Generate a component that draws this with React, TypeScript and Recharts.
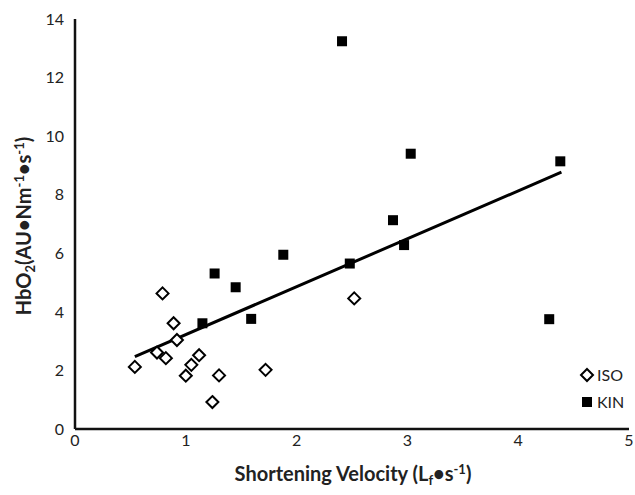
import { ScatterChart, Scatter, XAxis, YAxis, ReferenceLine } from 'recharts'

// ISO: open diamonds
const isoX = [0.54, 0.74, 0.79, 0.82, 0.89, 0.92, 1.0, 1.05, 1.12, 1.24, 1.30, 1.72, 2.52]
const isoY = [2.12, 2.61, 4.63, 2.42, 3.61, 3.04, 1.82, 2.19, 2.52, 0.92, 1.83, 2.02, 4.46]

// KIN: filled squares
const kinX = [1.15, 1.26, 1.45, 1.59, 1.88, 2.41, 2.48, 2.87, 2.97, 3.03, 4.28, 4.38]
const kinY = [3.61, 5.31, 4.84, 3.76, 5.95, 13.24, 5.65, 7.13, 6.28, 9.40, 3.75, 9.14]

// linear fit drawn across the data range
const trendX = [0.54, 4.39]
const trendY = [2.47, 8.77]

const seriesNames = ['ISO', 'KIN']
const xTicks = [0, 1, 2, 3, 4, 5]
const yTicks = [0, 2, 4, 6, 8, 10, 12, 14]

const isoData = isoX.map((x, i) => ({ x, y: isoY[i] }))
const kinData = kinX.map((x, i) => ({ x, y: kinY[i] }))

const FONT = 'Lato, "Open Sans", sans-serif'

const Diamond = (props: any) => {
    const { cx, cy } = props
    const r = 6
    return (
        <polygon
            points={`${cx},${cy - r} ${cx + r},${cy} ${cx},${cy + r} ${cx - r},${cy}`}
            fill="#fff"
            stroke="#000"
            strokeWidth={2}
        />
    )
}

const Square = (props: any) => {
    const { cx, cy } = props
    return <rect x={cx - 5} y={cy - 5} width={10} height={10} fill="#000" />
}

// legend sits inside the plot, lower right
const LegendBox = () => (
    <g transform="translate(580, 366)">
        {seriesNames.map((name, i) => {
            const cy = 9 + i * 27
            return (
                <g key={name}>
                    {name === 'ISO' ? (
                        <polygon points={`7,${cy - 6} 13,${cy} 7,${cy + 6} 1,${cy}`} fill="#fff" stroke="#000" strokeWidth={2} />
                    ) : (
                        <rect x={2} y={cy - 5} width={10} height={10} fill="#000" />
                    )}
                    <text x={17} y={cy} dy="0.35em" fontSize={16} fontFamily={FONT} fill="#222">
                        {name}
                    </text>
                </g>
            )
        })}
    </g>
)

const YTitle = () => (
    <text
        transform="translate(31, 226) rotate(-90)"
        textAnchor="middle"
        fontSize={20}
        fontWeight="bold"
        fontFamily={FONT}
        fill="#222"
    >
        HbO<tspan fontSize={13} dy={4}>2</tspan>
        <tspan dy={-4}>(AU•Nm</tspan>
        <tspan fontSize={13} dy={-7}>-1</tspan>
        <tspan dy={7}>•s</tspan>
        <tspan fontSize={13} dy={-7}>-1</tspan>
        <tspan dy={7}>)</tspan>
    </text>
)

const XTitle = () => (
    <text x={353} y={481} textAnchor="middle" fontSize={20} fontWeight="bold" fontFamily={FONT} fill="#222">
        Shortening Velocity (L<tspan fontSize={13} dy={4}>f</tspan>
        <tspan dy={-4}>•s</tspan>
        <tspan fontSize={13} dy={-7}>-1</tspan>
        <tspan dy={7}>)</tspan>
    </text>
)

export default function App() {
    return (
        <div style={{ position: 'absolute', left: 0, top: 0, width: 635, height: 495, background: '#fff' }}>
            <ScatterChart width={635} height={495} margin={{ top: 19, right: 6, bottom: 0, left: 0 }}>
                <XAxis
                    type="number"
                    dataKey="x"
                    domain={[0, 5]}
                    ticks={xTicks}
                    height={66}
                    tickLine={false}
                    tickSize={0}
                    tickMargin={6}
                    axisLine={{ stroke: '#111', strokeWidth: 2.5 }}
                    tick={{ fill: '#222', fontSize: 16, fontFamily: FONT }}
                    interval={0}
                />
                <YAxis
                    type="number"
                    dataKey="y"
                    domain={[0, 14]}
                    ticks={yTicks}
                    width={75}
                    tickLine={false}
                    tickSize={0}
                    tickMargin={11}
                    axisLine={{ stroke: '#111', strokeWidth: 2.5 }}
                    tick={{ fill: '#222', fontSize: 16, fontFamily: FONT }}
                    interval={0}
                />
                <ReferenceLine
                    segment={[{ x: trendX[0], y: trendY[0] }, { x: trendX[1], y: trendY[1] }]}
                    stroke="#000"
                    strokeWidth={3}
                    ifOverflow="visible"
                />
                <Scatter name="ISO" data={isoData} shape={Diamond} isAnimationActive={false} fill="#fff" />
                <Scatter name="KIN" data={kinData} shape={Square} isAnimationActive={false} fill="#000" />
            </ScatterChart>
            <svg width={635} height={495} style={{ position: 'absolute', left: 0, top: 0, pointerEvents: 'none' }}>
                <YTitle />
                <XTitle />
                <LegendBox />
            </svg>
        </div>
    )
}
